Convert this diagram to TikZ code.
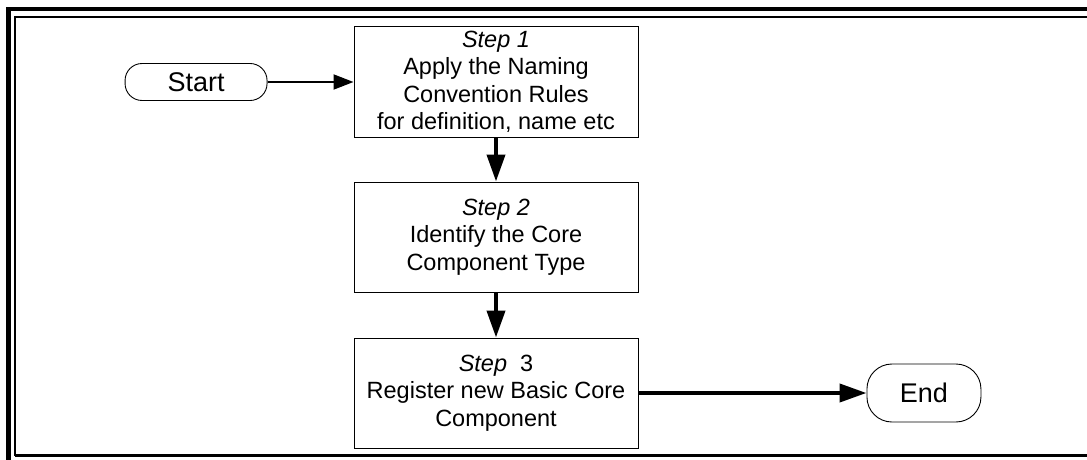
\documentclass[tikz,border=0pt]{standalone}
\usepackage{fontspec}
\setmainfont{Liberation Sans}
\usetikzlibrary{positioning,arrows.meta}
\tikzset{
    step-box/.style = {draw=black, fill=white, line width=1pt, rectangle, minimum width=284pt, minimum height=110pt, inner sep=0pt, align=center, font=\fontsize{23.5}{27.5}\selectfont},
    end-box/.style = {draw=black, fill=white, line width=0.9pt, rectangle, rounded corners=#1, inner sep=0pt, font=\fontsize{27}{30}\selectfont},
    flow-arrow/.style = {-{Triangle[length=27pt, width=18pt]}, line width=#1},
}

\begin{document}
\begin{tikzpicture}[x=1pt, y=1pt]
\useasboundingbox (0,0) rectangle (1087,459);
\clip (0,0) rectangle (1087,459);
% double frame
\draw[line width=4.5pt] (8.5,-20) -- (8.5,450) -- (1110,450);
\draw[line width=2pt] (1110,442) -- (15,442) -- (15,4) -- (1110,4);
\draw[line width=3pt] (15,4) -- (1110,4);

\node[step-box] (step1) at (496,377) {\textit{Step 1}\\Apply the Naming\\Convention Rules\\for definition, name etc};
\node[step-box, below=44pt of step1] (step2) {\textit{Step 2}\\Identify the Core\\Component Type};
\node[step-box, below=45pt of step2] (step3) {\textit{Step}\ \ 3\\Register new Basic Core\\Component};
\node[end-box=17pt, minimum width=142pt, minimum height=37pt, left=86pt of step1] (start) {Start};
\node[end-box=25pt, minimum width=114pt, minimum height=58pt, right=228pt of step3] (end) {End};

\draw[flow-arrow=2pt, -{Triangle[length=20pt, width=15pt]}] (start) -- (step1);
\draw[flow-arrow=4pt] (step1) -- (step2);
\draw[flow-arrow=4pt] (step2) -- (step3);
\draw[flow-arrow=4pt] (step3) -- (end);
\end{tikzpicture}
\end{document}
